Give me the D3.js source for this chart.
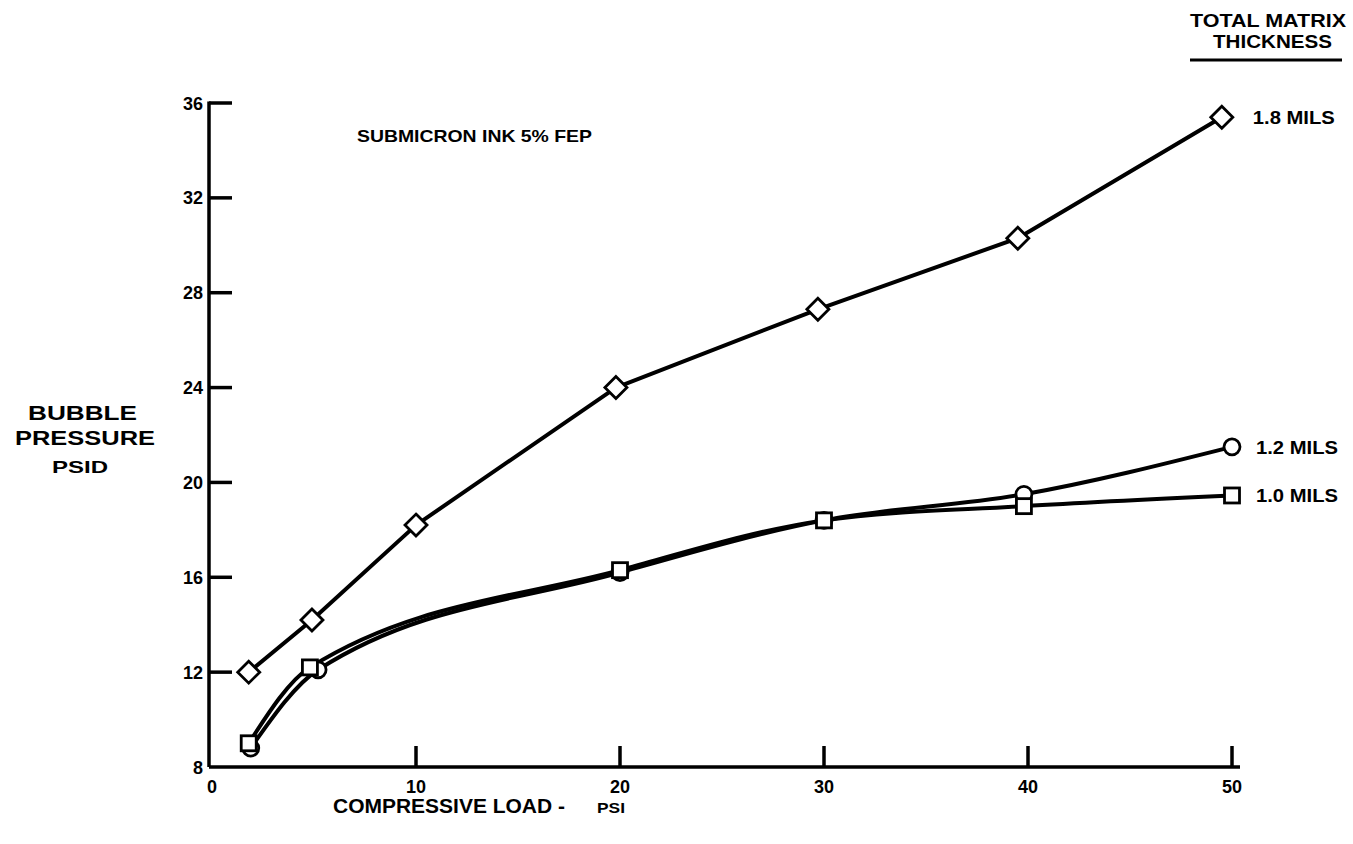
<!DOCTYPE html>
<html><head><meta charset="utf-8">
<script src="https://cdn.jsdelivr.net/npm/d3@7"></script>
<style>body{margin:0;background:#fff}svg{display:block}text{font-family:"Liberation Sans",Arial,sans-serif;font-weight:bold;fill:#000}</style>
</head><body><svg id="c" width="1353" height="844"></svg>
<script>
const xTicks = [0,10,20,30,40,50];
const yTicks = [8,12,16,20,24,28,32,36];
const seriesNames = ["1.8 MILS","1.2 MILS","1.0 MILS"];
const markers = ["diamond","circle","square"];
const x18 = [1.8,4.9,10,19.8,29.7,39.5,49.5];
const y18 = [12.0,14.2,18.2,24.0,27.3,30.3,35.4];
const x12 = [1.9,5.2,20.0,30.0,39.8,50.0];
const y12 = [8.8,12.1,16.2,18.4,19.5,21.5];
const x10 = [1.8,4.8,20.0,30.0,39.8,50.0];
const y10 = [9.0,12.2,16.3,18.4,19.0,19.45];
const xs = [x18,x12,x10], ys=[y18,y12,y10];

const svg = d3.select("#c");
const x = d3.scaleLinear().domain([0,50]).range([212,1232]);
const y = d3.scaleLinear().domain([8,36]).range([767,103]);

function txt(px,py,s,size,len,anchor){
  const t=svg.append("text").attr("x",px).attr("y",py).attr("font-size",size).text(s);
  if(anchor) t.attr("text-anchor",anchor);
  if(len) t.attr("textLength",len).attr("lengthAdjust","spacingAndGlyphs");
  return t;
}

// axes
svg.append("line").attr("x1",x(0)-3).attr("x2",x(50)+8).attr("y1",y(8)).attr("y2",y(8)).attr("stroke","#000").attr("stroke-width",3.5);
svg.append("line").attr("x1",x(0)-3).attr("x2",x(0)-3).attr("y1",y(8)).attr("y2",y(36)-1.5).attr("stroke","#000").attr("stroke-width",3.5);
yTicks.slice(1).forEach(v=>{
  svg.append("line").attr("x1",x(0)-3).attr("x2",x(0)+20).attr("y1",y(v)).attr("y2",y(v)).attr("stroke","#000").attr("stroke-width",3.5);
});
yTicks.forEach(v=>{
  txt(x(0)-9,y(v)+6.5,v,18,null,"end");
});
xTicks.slice(1).forEach(v=>{
  svg.append("line").attr("x1",x(v)).attr("x2",x(v)).attr("y1",y(8)).attr("y2",y(8)-21).attr("stroke","#000").attr("stroke-width",3.5);
});
xTicks.forEach(v=>{
  txt(x(v),y(8)+26,v,18,null,"middle");
});

// lines
const lineA = d3.line().x(d=>x(d[0])).y(d=>y(d[1]));
const lineB = d3.line().x(d=>x(d[0])).y(d=>y(d[1])).curve(d3.curveMonotoneX);
xs.forEach((xx,i)=>{
  const pts = xx.map((v,j)=>[v,ys[i][j]]);
  svg.append("path").attr("d",(i===0?lineA:lineB)(pts)).attr("fill","none").attr("stroke","#000").attr("stroke-width",4).attr("stroke-linejoin","round");
});
// markers
xs.forEach((xx,i)=>{
  xx.forEach((v,j)=>{
    const cx=x(v), cy=y(ys[i][j]);
    if(markers[i]==="diamond"){
      svg.append("path").attr("d",`M${cx},${cy-11}L${cx+11},${cy}L${cx},${cy+11}L${cx-11},${cy}Z`).attr("fill","#fff").attr("stroke","#000").attr("stroke-width",2.8);
    } else if(markers[i]==="circle"){
      svg.append("circle").attr("cx",cx).attr("cy",cy).attr("r",8).attr("fill","#fff").attr("stroke","#000").attr("stroke-width",2.8);
    } else {
      svg.append("rect").attr("x",cx-7.5).attr("y",cy-7.5).attr("width",15).attr("height",15).attr("fill","#fff").attr("stroke","#000").attr("stroke-width",2.8);
    }
  });
});
// series labels
seriesNames.forEach((s,i)=>{
  const n=xs[i].length-1;
  txt(x(xs[i][n])+(i===0?31:24),y(ys[i][n])+7,s,19,82);
});

// titles
txt(357,142,"SUBMICRON INK 5% FEP",17,235);
txt(1190,27,"TOTAL MATRIX",18,156);
txt(1213,48,"THICKNESS",18,119);
svg.append("line").attr("x1",1190).attr("x2",1342).attr("y1",60).attr("y2",60).attr("stroke","#000").attr("stroke-width",3);

txt(28,420,"BUBBLE",21,109);
txt(15,445,"PRESSURE",21,140);
txt(52,473,"PSID",17,56);

txt(333,813,"COMPRESSIVE LOAD -",20,232);
txt(597,813,"PSI",15,28);
</script></body></html>
